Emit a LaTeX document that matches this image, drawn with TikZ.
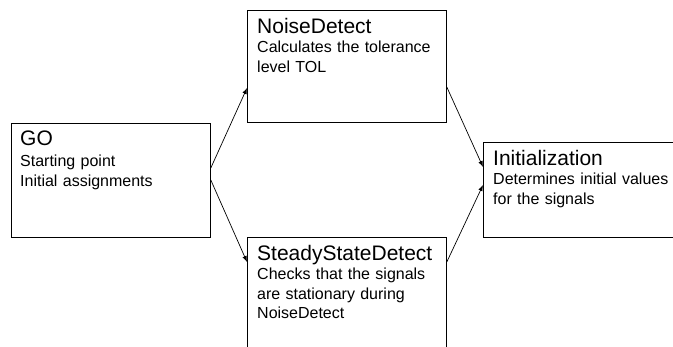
\documentclass[tikz,border=0pt]{standalone}
\usepackage{fontspec}
\setmainfont{Liberation Sans}
\usetikzlibrary{calc,arrows.meta}
\tikzset{
  box/.style={draw=black, line width=0.8pt, rectangle, inner sep=0pt, anchor=north west},
  ttl/.style={anchor=base west, inner sep=0pt, font=\fontsize{21}{24}\selectfont},
  body/.style={anchor=base west, inner sep=0pt, align=left, text width=200pt, font=\fontsize{16}{19.5}\selectfont},
  conn/.style={draw=black, line width=0.7pt, -{Latex[length=6pt,width=4.5pt]}}
}
\begin{document}
\begin{tikzpicture}[x=1pt,y=-1pt]
\useasboundingbox (0,0) rectangle (673,347);
\clip (0,0) rectangle (673,347);
\fill[white] (0,0) rectangle (673,347);
\node[box, minimum width=199pt, minimum height=114pt] (go) at (11,123) {};
\node[box, minimum width=199pt, minimum height=112pt] (nd) at (247,10) {};
\node[box, minimum width=199pt, minimum height=130pt] (ss) at (247,237) {};
\node[box, minimum width=200pt, minimum height=95pt] (in) at (483,142) {};
% texts
\node[ttl] (got) at ($(go.north west)+(9,23)$) {GO};
\node[body] (gob) at ($(go.north west)+(9,44)$) {Starting point\\Initial assignments};
\node[ttl] (ndt) at ($(nd.north west)+(10,24)$) {NoiseDetect};
\node[body] (ndb) at ($(nd.north west)+(10,43)$) {Calculates the tolerance\\level TOL};
\node[ttl] (sst) at ($(ss.north west)+(10,24)$) {SteadyStateDetect};
\node[body] (ssb) at ($(ss.north west)+(10,43)$) {Checks that the signals\\are stationary during\\NoiseDetect};
\node[ttl] (int) at ($(in.north west)+(10,24)$) {Initialization};
\node[body] (inb) at ($(in.north west)+(10,43)$) {Determines initial values\\for the signals};
% connectors
\draw[conn] ($(go.north east)+(0,45)$) -- ($(nd.north west)+(0,78)$);
\draw[conn] ($(go.north east)+(0,57)$) -- ($(ss.north west)+(0,25)$);
\draw[conn] ($(nd.north east)+(0,77)$) -- ($(in.north west)+(0,25)$);
\draw[conn] ($(ss.north east)+(0,25)$) -- ($(in.north west)+(0,43)$);
\end{tikzpicture}
\end{document}
